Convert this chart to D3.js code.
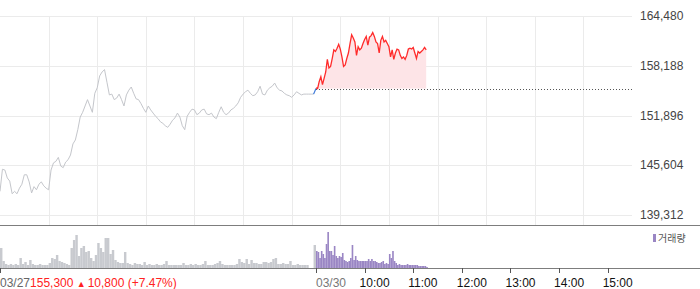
<!DOCTYPE html>
<html>
<head>
<meta charset="utf-8">
<script src="https://cdn.jsdelivr.net/npm/d3@7"></script>
<style>
  body { margin: 0; background: #fff; }
  text { font-family: "Liberation Sans", Arial, sans-serif; }
</style>
</head>
<body>
<div id="chart"></div>
<script>
// prices of 03/27, one value every 3 minutes from 09:00 (last = 15:30 close)
var prevPrice = [
  142300,145100,145000,144000,143600,142000,142300,142000,142700,143200,
  144400,144400,143500,142100,142900,142500,143200,143500,143000,142700,
  142500,145000,145900,146100,146600,145500,145300,146000,146300,146900,
  148300,148800,150100,151700,152300,153100,153900,153100,152300,154700,
  155400,156900,157400,157700,156100,154500,154600,153900,154100,154600,
  153900,153100,154500,155100,155500,154700,154000,153900,153400,152800,
  152300,153100,152600,152200,151800,151500,151100,150900,150600,150400,
  150800,151300,151600,152200,151700,150600,150100,151800,152300,152700,
  152600,152000,152200,152600,152700,152100,152000,152200,151700,151500,
  152300,153000,152300,152000,152200,152600,152800,153100,153500,154200,
  154600,154900,155100,154700,154400,154500,154900,155600,154600,154500,
  155100,155400,155600,156000,155400,155100,155000,154700,154500,154400,
  154200,154500,154900,154700,154500,154600,154600,154600,154600,154600,
  155300
];
// prices of 03/30, one value every 2 minutes from 09:00
var todayPrice = [
  155400,155300,156200,156800,155800,156600,157400,159000,157900,158100,
  159100,160200,160000,160400,160900,160300,159300,158100,158300,159100,
  159800,161000,162100,161700,161200,159500,160600,160200,160400,161000,
  161500,161900,160800,161800,162000,162400,161900,161200,161000,159800,
  161400,161900,161200,161400,161000,160600,159300,160200,159000,159800,
  160300,160200,159500,159100,159300,159000,159500,160300,160400,160300,
  160500,159800,159100,160000,159800,160000,160200,160500,160200
];
// volume (thousand shares), 03/27 in 3-minute buckets
var prevVol = [
  20,7,4,3,4,3,4,3,10,4, 6,3,8,4,3,3,4,3,3,3,
  5,10,9,13,7,6,5,4,3,20, 28,33,12,20,22,16,17,10,7,13,
  25,20,16,30,30,14,18,8,6,5, 5,16,5,4,3,5,4,4,3,6,
  3,4,3,3,4,3,3,4,7,3, 3,3,3,3,3,5,3,3,4,3,
  4,3,3,4,7,3,3,3,4,5, 7,4,3,3,3,3,3,4,9,6,
  5,9,4,8,5,5,4,4,6,6, 5,6,9,10,4,4,5,4,4,7,
  3,3,4,3,3,3,3,0,0,23
];
// volume (thousand shares), 03/30 in 2-minute buckets
var todayVol = [
  17,16,10,17,14,10,24,36,17,17, 13,22,12,10,12,11,15,8,7,6,
  7,10,23,8,12,8,7,7,7,7, 7,7,9,7,9,7,7,6,5,5,
  6,7,4,5,4,14,10,17,7,5, 3,4,3,3,3,3,4,3,3,3,
  3,3,3,2,2,2,2,2,1
];
var prevClose = 155300;
var priceTicks = [139312, 145604, 151896, 158188, 164480];
var timeTicks = ["03/30", "10:00", "11:00", "12:00", "13:00", "14:00", "15:00"];
var prevLabel = "03/27";
var changeText = ["155,300 ", "\u25B2", "10,800 (+7.47%)"];

var W = 700, H = 289, plotW = 632;
var svg = d3.select("#chart").append("svg")
    .attr("width", W).attr("height", H);

// minutes since 03/27 09:00, 390 minutes per session
var x = d3.scaleLinear().domain([0, 780]).range([0, plotW]);
var y = d3.scaleLinear().domain([139312, 164480]).range([215, 16]);
var yv = d3.scaleLinear().domain([0, 40]).range([268, 228]);

var prevT = prevPrice.map(function (d, i) { return i * 3; });
var todayT = todayPrice.map(function (d, i) { return 390 + i * 2; });

// grid
svg.append("g").selectAll("line")
    .data(priceTicks).enter().append("line")
    .attr("x1", 0).attr("x2", plotW)
    .attr("y1", function (d) { return Math.round(y(d)) + 0.5; })
    .attr("y2", function (d) { return Math.round(y(d)) + 0.5; })
    .attr("stroke", "#ebebeb");
svg.append("g").selectAll("line")
    .data(d3.range(60, 780, 60)).enter().append("line")
    .attr("x1", function (d) { return Math.round(x(d)) + 0.5; })
    .attr("x2", function (d) { return Math.round(x(d)) + 0.5; })
    .attr("y1", 16).attr("y2", 225)
    .attr("stroke", "#ebebeb");

// price labels
svg.append("g").selectAll("text")
    .data(priceTicks).enter().append("text")
    .attr("x", 640).attr("y", function (d) { return y(d); })
    .attr("dy", "0.35em")
    .attr("font-size", 12).attr("fill", "#444")
    .text(function (d) { return d3.format(",")(d); });

// today area + baseline
var area = d3.area()
    .x(function (d, i) { return x(todayT[i]); })
    .y0(y(prevClose))
    .y1(function (d) { return y(d); });
svg.append("path").datum(todayPrice)
    .attr("d", area).attr("fill", "#fde4e7");

svg.append("line")
    .attr("x1", x(390)).attr("x2", plotW)
    .attr("y1", Math.round(y(prevClose)) + 0.5).attr("y2", Math.round(y(prevClose)) + 0.5)
    .attr("stroke", "#555").attr("stroke-dasharray", "1,2");

var line = d3.line()
    .x(function (d) { return x(d[0]); })
    .y(function (d) { return y(d[1]); });

var prevPts = prevT.map(function (t, i) { return [t, prevPrice[i]]; });
svg.append("path").datum(prevPts.slice(0, -1))
    .attr("d", line).attr("fill", "none")
    .attr("stroke", "#c4c6cb").attr("stroke-width", 1);
svg.append("path").datum(prevPts.slice(-2))
    .attr("d", line).attr("fill", "none")
    .attr("stroke", "#3b78d8").attr("stroke-width", 1.2);

var todayPts = todayT.map(function (t, i) { return [t, todayPrice[i]]; });
svg.append("path").datum(todayPts)
    .attr("d", line).attr("fill", "none")
    .attr("stroke", "#ff2b2b").attr("stroke-width", 1.3);

// separators
svg.append("line").attr("x1", 0).attr("x2", W)
    .attr("y1", 225.5).attr("y2", 225.5).attr("stroke", "#7d7d7d");
svg.append("line").attr("x1", 0).attr("x2", W)
    .attr("y1", 268.5).attr("y2", 268.5).attr("stroke", "#7d7d7d");

// volume bars
svg.append("g").selectAll("rect")
    .data(prevVol).enter().append("rect")
    .attr("x", function (d, i) { return x(i * 3); })
    .attr("width", x(3) - x(0))
    .attr("y", function (d) { return yv(d); })
    .attr("height", function (d) { return 268 - yv(d); })
    .attr("fill", "#c8cacf");
svg.append("g").selectAll("rect")
    .data(todayVol).enter().append("rect")
    .attr("x", function (d, i) { return x(390 + i * 2); })
    .attr("width", x(2) - x(0))
    .attr("y", function (d) { return yv(d); })
    .attr("height", function (d) { return 268 - yv(d); })
    .attr("fill", "#9a86c4");

// legend
svg.append("rect").attr("x", 653).attr("y", 234)
    .attr("width", 3).attr("height", 8).attr("fill", "#9a86c4");
svg.append("text").attr("x", 658).attr("y", 238)
    .attr("dy", "0.35em")
    .attr("font-size", 10).attr("fill", "#555")
    .style("font-family", "'Noto Sans CJK KR', sans-serif")
    .text("거래량");

// x ticks and labels
var tickMin = [0].concat(d3.range(390, 780, 60));
svg.append("g").selectAll("line")
    .data(tickMin).enter().append("line")
    .attr("x1", function (d) { return Math.round(x(d)) + 0.5; })
    .attr("x2", function (d) { return Math.round(x(d)) + 0.5; })
    .attr("y1", 268).attr("y2", 273)
    .attr("stroke", "#555");

svg.append("g").selectAll("text")
    .data(timeTicks).enter().append("text")
    .attr("x", function (d, i) { return i === 0 ? x(390) : x(390 + i * 60) - 5; })
    .attr("y", 286.5)
    .attr("font-size", 12)
    .attr("fill", function (d, i) { return i === 0 ? "#777" : "#111"; })
    .text(function (d) { return d; });

var lbl = svg.append("text").attr("x", 0).attr("y", 286.5).attr("font-size", 12);
lbl.append("tspan").attr("fill", "#666").text(prevLabel);
lbl.append("tspan").attr("fill", "#f22").text(changeText[0]);
lbl.append("tspan").attr("fill", "#f22").attr("font-size", 9).text(changeText[1]);
lbl.append("tspan").attr("fill", "#f22").attr("dx", 2).text(changeText[2]);
</script>
</body>
</html>
